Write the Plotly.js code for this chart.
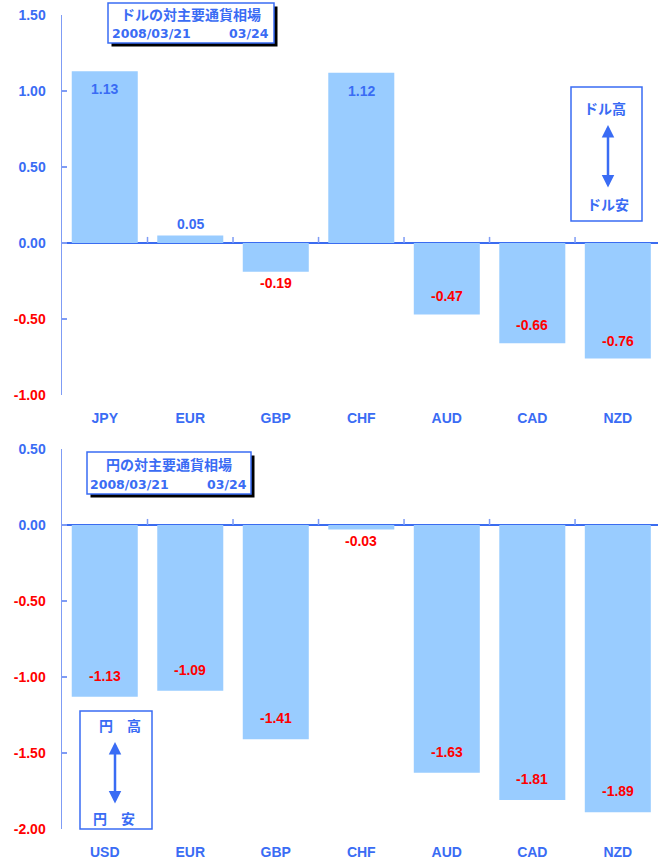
<!DOCTYPE html>
<html>
<head>
<meta charset="utf-8">
<script src="https://cdn.plot.ly/plotly-3.0.1.min.js"></script>
<style>html,body{margin:0;padding:0;background:#fff}</style>
</head>
<body>
<div id="chart" style="width:658px;height:859px"></div>
<script>
// ---- data ----
const topCats = ['JPY','EUR','GBP','CHF','AUD','CAD','NZD'];
const topVals = [1.13, 0.05, -0.19, 1.12, -0.47, -0.66, -0.76];
const botCats = ['USD','EUR','GBP','CHF','AUD','CAD','NZD'];
const botVals = [-1.13, -1.09, -1.41, -0.03, -1.63, -1.81, -1.89];
const topTickVals = [-1.0, -0.5, 0.0, 0.5, 1.0, 1.5];
const botTickVals = [-2.0, -1.5, -1.0, -0.5, 0.0, 0.5];
const topTitle = 'ドルの対主要通貨相場';
const botTitle = '円の対主要通貨相場';
const dateFrom = '2008/03/21';
const dateTo = '03/24';
const topLegend = ['ドル高', 'ドル安'];
const botLegend = ['円　高', '円　安'];

// ---- style ----
const W = 658, H = 859;
const M = {l: 62, r: 0, t: 15, b: 30};
const BLUE = '#3a6cf4';
const RED = '#ff0000';
const BAR = '#99ccff';
const AXIS = '#7f9cf5';
const ZERO = '#3b6cf0';
const LAT = 'Liberation Sans, Arial, sans-serif';
const JP = 'Noto Sans CJK JP, sans-serif';
const px = x => (x - M.l) / (W - M.l - M.r);
const py = y => (H - M.b - y) / (H - M.t - M.b);

function tickText(vals) {
  return vals.map(v => {
    const s = v.toFixed(2);
    return v < 0 ? '<span style="color:' + RED + '">' + s + '</span>' : s;
  });
}

function yaxis(domain, range, vals, anchor) {
  return {
    domain: domain, range: range, anchor: anchor,
    tickvals: vals, ticktext: tickText(vals),
    tickfont: {family: LAT, size: 14, color: BLUE, weight: 'bold'},
    ticks: 'inside', ticklen: 5, tickwidth: 1.5, tickcolor: AXIS,
    showline: true, linecolor: AXIS, linewidth: 1.5,
    showgrid: false, zeroline: true, zerolinecolor: ZERO, zerolinewidth: 2,
    ticklabelstandoff: 12, fixedrange: true
  };
}
function xaxis(anchor) {
  return {
    type: 'category', anchor: anchor, range: [-0.5, 6.47],
    showline: false, showgrid: false, zeroline: false, ticks: '',
    tickfont: {family: LAT, size: 14, color: BLUE, weight: 'bold'},
    ticklabelstandoff: 13, fixedrange: true
  };
}

const traces = [
  {type: 'bar', x: topCats, y: topVals, xaxis: 'x', yaxis: 'y',
   marker: {color: BAR}, hoverinfo: 'none'},
  {type: 'bar', x: botCats, y: botVals, xaxis: 'x2', yaxis: 'y2',
   marker: {color: BAR}, hoverinfo: 'none'}
];

const annotations = [];
const shapes = [];

function valueLabels(cats, vals, xr, yr, inShift) {
  cats.forEach((c, i) => {
    const v = vals[i];
    const inside = Math.abs(v) * 152 > 30;
    let shift;
    if (inside) shift = v > 0 ? -inShift : inShift;
    else shift = v > 0 ? 11 : -11;
    annotations.push({
      xref: xr, yref: yr, x: c, y: v, yshift: shift, showarrow: false,
      xanchor: 'center', yanchor: 'middle',
      text: v.toFixed(2),
      font: {family: LAT, size: 14, color: v < 0 ? RED : BLUE, weight: 'bold'}
    });
  });
}
valueLabels(topCats, topVals, 'x', 'y', 18);
valueLabels(botCats, botVals, 'x2', 'y2', 21);

function boundaryTicks(n, xr, yr) {
  for (let i = 0; i < n - 1; i++) {
    shapes.push({type: 'line', xref: xr, yref: yr, x0: i + 0.5, x1: i + 0.5,
      y0: 0, y1: 0.04, line: {color: AXIS, width: 1.5}});
  }
}
boundaryTicks(topCats.length, 'x', 'y');
boundaryTicks(botCats.length, 'x2', 'y2');

function note(x, y, text, font, xanchor) {
  annotations.push({xref: 'paper', yref: 'paper', x: px(x), y: py(y),
    xanchor: xanchor || 'center', yanchor: 'middle', showarrow: false,
    borderpad: 0, text: text, font: font});
}

function titleBox(x0, y0, x1, y1, title, ty, dy, dl, dr) {
  shapes.push({type: 'rect', xref: 'paper', yref: 'paper',
    x0: px(x0 + 3.5), x1: px(x1 + 3.5), y0: py(y1 + 3.5), y1: py(y0 + 3.5),
    fillcolor: '#000', line: {width: 0}});
  shapes.push({type: 'rect', xref: 'paper', yref: 'paper',
    x0: px(x0), x1: px(x1), y0: py(y1), y1: py(y0),
    fillcolor: '#fff', line: {color: BLUE, width: 1.5}});
  note((x0 + x1) / 2, ty, title, {family: JP, size: 14, color: BLUE, weight: 'bold'});
  const df = {family: 'DejaVu Sans', size: 12.5, color: BLUE, weight: 'bold'};
  note(dl, dy, dateFrom, df, 'left');
  note(dr, dy, dateTo, df, 'right');
}
titleBox(108, 3, 274, 43, topTitle, 14, 33, 111, 270);
titleBox(87, 452, 251, 494, botTitle, 464, 484, 89, 248);

function legendBox(x0, y0, x1, y1, labels, hx, hy, lx, ly, ax, a0, a1) {
  shapes.push({type: 'rect', xref: 'paper', yref: 'paper',
    x0: px(x0), x1: px(x1), y0: py(y1), y1: py(y0),
    fillcolor: 'rgba(255,255,255,0)', line: {color: BLUE, width: 1.5}});
  const lf = {family: JP, size: 14, color: BLUE, weight: 'bold'};
  note(hx, hy, labels[0], lf);
  note(lx, ly, labels[1], lf);
  annotations.push({xref: 'paper', yref: 'paper', x: px(ax), y: py(a0),
    ax: 0, ay: a1 - a0, text: '', showarrow: true, arrowside: 'end+start',
    arrowhead: 2, startarrowhead: 2, arrowsize: 1, startarrowsize: 1,
    arrowwidth: 2.5, arrowcolor: BLUE, standoff: 0, startstandoff: 0});
}
legendBox(571, 87, 642, 221, topLegend, 605, 108, 608, 204, 608, 125, 189);
legendBox(80, 711, 152, 829, botLegend, 120, 725, 114, 818, 115, 742, 805);

const layout = {
  width: W, height: H, margin: M,
  paper_bgcolor: '#fff', plot_bgcolor: 'rgba(0,0,0,0)',
  showlegend: false, bargap: 0.228,
  xaxis: xaxis('y'),
  yaxis: yaxis([0.5332, 1], [-1, 1.5], topTickVals, 'x'),
  xaxis2: xaxis('y2'),
  yaxis2: yaxis([0, 0.4668], [-2, 0.5], botTickVals, 'x2'),
  shapes: shapes, annotations: annotations
};

Plotly.newPlot('chart', traces, layout, {displayModeBar: false, staticPlot: true});
</script>
</body>
</html>
